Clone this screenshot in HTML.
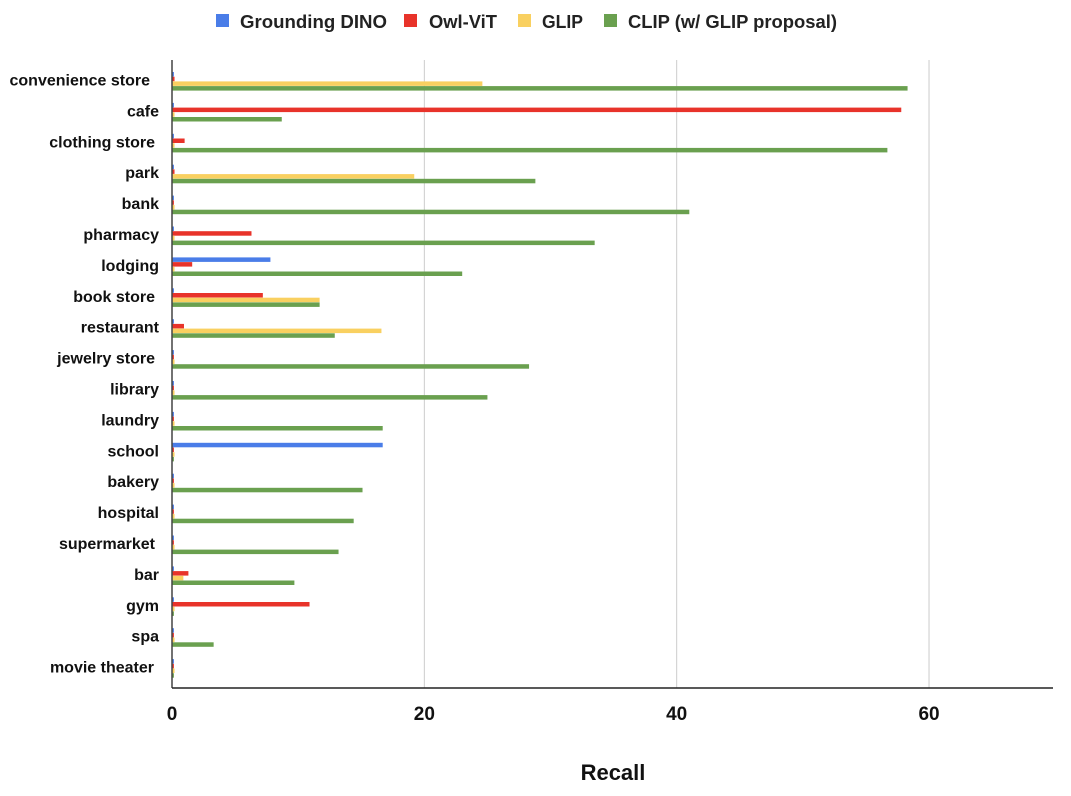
<!DOCTYPE html>
<html><head><meta charset="utf-8"><style>
body{margin:0;background:#fff;font-family:"Liberation Sans",Arial,sans-serif}
</style></head><body>
<svg id="chart" width="1071" height="791" xmlns="http://www.w3.org/2000/svg" font-family="Liberation Sans, Arial, sans-serif">
<g id="legend"></g>
<g id="grid"></g>
<g id="bars"></g>
<g id="cats"></g>
<g id="ticks"></g>
<line x1="172" y1="60" x2="172" y2="688" stroke="#444" stroke-width="1.5"/>
<line x1="172" y1="688" x2="1053" y2="688" stroke="#222" stroke-width="1.5"/>
<text x="613" y="780" text-anchor="middle" font-size="22" font-weight="bold" fill="#111">Recall</text>
</svg>
<script>
const categories=["convenience store","cafe","clothing store","park","bank","pharmacy","lodging","book store","restaurant","jewelry store","library","laundry","school","bakery","hospital","supermarket","bar","gym","spa","movie theater"];
const seriesNames=["Grounding DINO","Owl-ViT","GLIP","CLIP (w/ GLIP proposal)"];
const groundingDino=[0.15,0.15,0.15,0.15,0.15,0.15,7.8,0.15,0.15,0.15,0.15,0.15,16.7,0.15,0.15,0.15,0.15,0.15,0.15,0.15];
const owlVit=[0.2,57.8,1.0,0.2,0.15,6.3,1.6,7.2,0.95,0.15,0.15,0.15,0.15,0.15,0.15,0.15,1.3,10.9,0.15,0.15];
const glip=[24.6,0.2,0.2,19.2,0.2,0.2,0.2,11.7,16.6,0.2,0.2,0.2,0.2,0.2,0.2,0.2,0.9,0.2,0.2,0.2];
const clipGlip=[58.3,8.7,56.7,28.8,41.0,33.5,23.0,11.7,12.9,28.3,25.0,16.7,0.15,15.1,14.4,13.2,9.7,0.15,3.3,0.15];
const tickValues=[0,20,40,60];
const colors=["#4a7de8","#e8332a","#f9d060","#6aa04f"];
const NS="http://www.w3.org/2000/svg";
const x=v=>172+v*12.617;
const bandY=i=>72+i*30.9;
const barH=4.7;
const trailing={"convenience store":150,"clothing store":155,"book store":155,"jewelry store":155,"supermarket":155,"movie theater":154};
function mk(tag,attrs,parent){const e=document.createElementNS(NS,tag);for(const k in attrs)e.setAttribute(k,attrs[k]);parent.appendChild(e);return e;}
const grid=document.getElementById('grid'),bars=document.getElementById('bars'),cats=document.getElementById('cats'),ticks=document.getElementById('ticks'),legend=document.getElementById('legend');
tickValues.forEach(t=>{
  if(t>0){const l=mk('line',{x1:x(t),x2:x(t),y1:60,y2:688,stroke:'#ccc','stroke-width':1},grid);
  
  }
  const tx=mk('text',{x:x(t),y:720,'text-anchor':'middle','font-size':19,'font-weight':'bold',fill:'#111'},ticks);
  tx.textContent=t;
  
  
});
const allSeries=[groundingDino,owlVit,glip,clipGlip];
categories.forEach((c,i)=>{
  const lt=mk('text',{x:trailing[c]||159,y:bandY(i)+13.5,'text-anchor':'end','font-size':16,'font-weight':'bold',fill:'#111'},cats);
  lt.textContent=c;
  
  
  allSeries.forEach((s,k)=>{
    const r=mk('rect',{x:172,y:bandY(i)+k*barH,width:Math.max(0,x(s[i])-172),height:barH-0.2,fill:colors[k]},bars);
    
    
  });
});
const legX=[216,404,518,604];
const legTX=[240,429,542,628];
const legW=[147,68,41,209];
seriesNames.forEach((n,k)=>{
  const r=mk('rect',{x:legX[k],y:14,width:13,height:13,fill:colors[k]},legend);
  
  
  const t=mk('text',{x:legTX[k],y:28,'font-size':18,'font-weight':'bold',fill:'#222',textLength:legW[k],lengthAdjust:'spacingAndGlyphs'},legend);
  t.textContent=n;
  
  
});
</script>
</body></html>
